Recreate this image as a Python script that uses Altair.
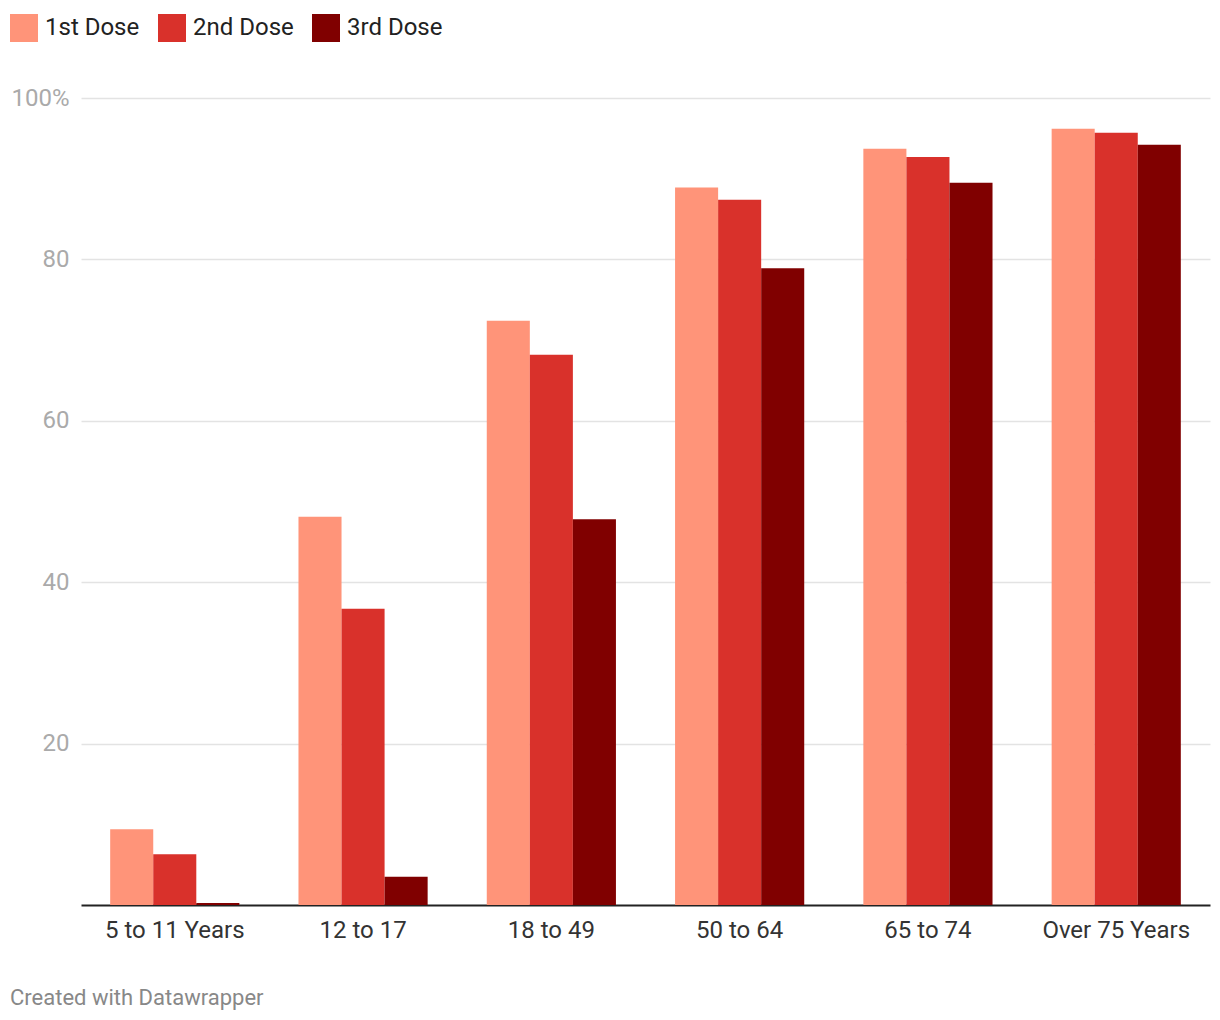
import altair as alt
import pandas as pd

groups = ["5 to 11 Years", "12 to 17", "18 to 49", "50 to 64", "65 to 74", "Over 75 Years"]
doses = ["1st Dose", "2nd Dose", "3rd Dose"]
dose1 = [9.4, 48.1, 72.4, 88.9, 93.7, 96.2]
dose2 = [6.3, 36.7, 68.2, 87.4, 92.7, 95.7]
dose3 = [0.25, 3.5, 47.8, 78.9, 89.5, 94.2]
colors = ["#ff9479", "#d9312b", "#800000"]
y_ticks = [20, 40, 60, 80, 100]

rows = []
for d, vals in zip(doses, [dose1, dose2, dose3]):
    for g, v in zip(groups, vals):
        rows.append({"group": g, "dose": d, "value": v})
df = pd.DataFrame(rows)

FONT = "Roboto"

chart = alt.Chart(df).mark_bar().encode(
    x=alt.X("group:N", sort=groups,
            scale=alt.Scale(paddingInner=0.314, paddingOuter=0.155),
            axis=alt.Axis(title=None, labelAngle=0, labelFontSize=24, labelColor="#333333",
                          labelFont=FONT, labelPadding=13, ticks=False, domainColor="#222222",
                          domainWidth=2, grid=False)),
    xOffset=alt.XOffset("dose:N", sort=doses, scale=alt.Scale(paddingInner=0, paddingOuter=0)),
    y=alt.Y("value:Q", scale=alt.Scale(domain=[0, 100], nice=False),
            axis=alt.Axis(title=None, values=y_ticks, labelFontSize=24, labelColor="#aaaaaa",
                          labelFont=FONT, labelPadding=12, ticks=False, domain=False,
                          gridColor="#e3e3e3", gridWidth=1.5,
                          labelExpr="datum.value == 100 ? '100%' : datum.label")),
    color=alt.Color("dose:N", sort=doses, scale=alt.Scale(domain=doses, range=colors),
                    legend=alt.Legend(title=None, orient="none", legendX=-71, legendY=-84,
                                      direction="horizontal", symbolType="square",
                                      symbolSize=784, symbolStrokeWidth=0, symbolOpacity=1,
                                      labelFontSize=24, labelFont=FONT, labelColor="#222222",
                                      labelOffset=7, columnPadding=18)),
).properties(
    width=1129, height=807,
    autosize=alt.AutoSizeParams(type="none"),
    padding={"left": 73, "top": 90, "right": 2, "bottom": 110},
    title=alt.TitleParams("Created with Datawrapper", orient="bottom", anchor="start",
                          dx=0, offset=46, fontSize=22, font=FONT, fontWeight="normal",
                          color="#888888"),
).configure_view(stroke=None)

chart.save("out.html", embed_options={"renderer": "svg", "actions": False})
